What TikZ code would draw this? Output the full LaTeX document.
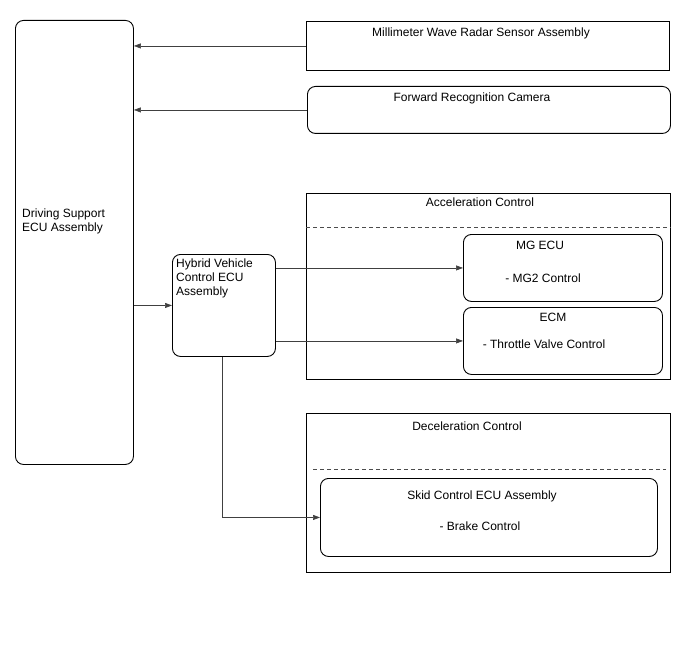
\documentclass[tikz,border=0pt]{standalone}
\usepackage{fontspec}
\setmainfont{Liberation Sans}
\usetikzlibrary{arrows.meta}

\begin{document}
\begin{tikzpicture}[
    x=1pt, y=-1pt,
    font=\fontsize{12}{14}\selectfont,
    unit/.style={draw, line width=0.9pt, rounded corners=8pt, inner sep=0pt, anchor=north west},
    group/.style={draw, line width=0.9pt, inner sep=0pt, anchor=north west},
    lbl/.style={inner sep=0pt, anchor=base},
    blk/.style={inner sep=0pt, anchor=north west, align=left},
    sep/.style={dashed, draw=black!70, line width=0.6pt, dash pattern=on 4pt off 3pt},
    arrow/.style={-{Triangle[length=7pt, width=5pt]}, draw=black!75, line width=0.6pt}
]
\useasboundingbox (0,0) rectangle (688,658);

% Nodes
\node[unit, minimum width=118pt, minimum height=444pt] (ds) at (15,20) {};
\node[blk] (ds_txt) at (22,208.5) {Driving Support\\ECU Assembly};

\node[group, minimum width=363pt, minimum height=49pt] (mwr) at (306,21) {};
\node[lbl] (mwr_txt) at (481,36.5) {Millimeter Wave Radar Sensor Assembly};

\node[unit, minimum width=363pt, minimum height=47pt] (cam) at (307,86) {};
\node[lbl] (cam_txt) at (472,101.5) {Forward Recognition Camera};

\node[unit, minimum width=103pt, minimum height=102pt] (hv) at (172,254) {};
\node[blk] (hv_txt) at (176,258.5) {Hybrid Vehicle\\Control ECU\\Assembly};

\node[group, minimum width=364pt, minimum height=186pt] (acc) at (306,193) {};
\node[lbl] (acc_txt) at (480,206.5) {Acceleration Control};

\node[unit, minimum width=199pt, minimum height=67pt] (mg) at (463,234) {};
\node[lbl] (mg_txt) at (540,249.5) {MG ECU};
\node[lbl] (mg_sub) at (543,282.5) {- MG2 Control};

\node[unit, minimum width=199pt, minimum height=67pt] (ecm) at (463,307) {};
\node[lbl] (ecm_txt) at (553,321.5) {ECM};
\node[lbl] (ecm_sub) at (544,348.5) {- Throttle Valve Control};

\node[group, minimum width=364pt, minimum height=159pt] (dec) at (306,413) {};
\node[lbl] (dec_txt) at (467,430.5) {Deceleration Control};

\node[unit, minimum width=337pt, minimum height=78pt] (skid) at (320,478) {};
\node[lbl] (skid_txt) at (482,499.5) {Skid Control ECU Assembly};
\node[lbl] (skid_sub) at (480,530.5) {- Brake Control};

% Separators
\draw[sep] ([yshift=-34pt]acc.north west) -- ([yshift=-34pt]acc.north east);
\draw[sep] ([xshift=7pt, yshift=-56pt]dec.north west) -- ([xshift=-5pt, yshift=-56pt]dec.north east);

% Arrows
\draw[arrow] (mwr.west) -- (ds.east |- mwr.west);
\draw[arrow] (cam.west) -- (ds.east |- cam.west);
\draw[arrow] (ds.east |- hv.west) -- (hv.west);
\draw[arrow] (hv.east |- mg.west) -- (mg.west);
\draw[arrow] (hv.east |- ecm.west) -- (ecm.west);
\draw[arrow] ([xshift=-1.5pt]hv.south) |- (skid.west);

\end{tikzpicture}
\end{document}
